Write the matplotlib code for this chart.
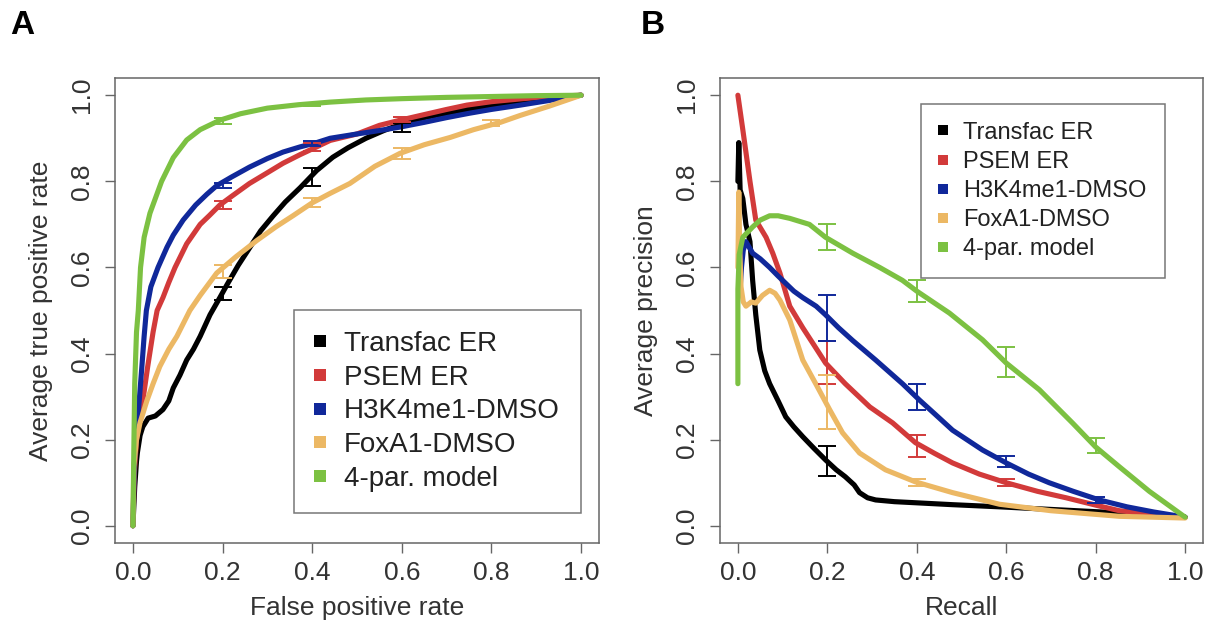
import matplotlib
matplotlib.use('Agg')
from matplotlib import pyplot as plt
from matplotlib.lines import Line2D

plt.rcParams['font.family'] = ['Liberation Sans', 'DejaVu Sans']

names = ['Transfac ER', 'PSEM ER', 'H3K4me1-DMSO', 'FoxA1-DMSO', '4-par. model']
colors = ['#000000', '#d23a3a', '#10289a', '#ecb864', '#7cc142']

# ---- panel A: ROC curves (false positive rate, true positive rate)
roc_fpr_transfac = [0, 0.004, 0.008, 0.01, 0.016, 0.022, 0.034, 0.05, 0.067, 0.08, 0.09, 0.105,
                    0.12, 0.135, 0.15, 0.172, 0.194, 0.21, 0.235, 0.26, 0.285, 0.313, 0.34, 0.373,
                    0.41, 0.446, 0.48, 0.52, 0.56, 0.596, 0.65, 0.708, 0.76, 0.82, 0.9, 1.0]
roc_tpr_transfac = [0, 0.09, 0.15, 0.17, 0.21, 0.23, 0.25, 0.255, 0.27, 0.29, 0.32, 0.35,
                    0.385, 0.41, 0.44, 0.49, 0.53, 0.56, 0.605, 0.645, 0.685, 0.72, 0.752, 0.785,
                    0.825, 0.856, 0.878, 0.90, 0.918, 0.932, 0.948, 0.96, 0.97, 0.98, 0.99, 1.0]

roc_fpr_psem = [0, 0.003, 0.008, 0.015, 0.022, 0.033, 0.045, 0.054, 0.067, 0.08, 0.094, 0.12,
                0.15, 0.17, 0.194, 0.22, 0.26, 0.3, 0.335, 0.373, 0.41, 0.44, 0.5, 0.55, 0.596,
                0.65, 0.7, 0.745, 0.8, 0.87, 0.93, 1.0]
roc_tpr_psem = [0, 0.12, 0.2, 0.25, 0.29, 0.37, 0.45, 0.50, 0.53, 0.565, 0.60, 0.655,
                0.70, 0.72, 0.745, 0.765, 0.795, 0.82, 0.842, 0.862, 0.88, 0.895, 0.91, 0.93, 0.942,
                0.955, 0.967, 0.977, 0.985, 0.992, 0.997, 1.0]

roc_fpr_h3k4 = [0, 0.003, 0.008, 0.014, 0.02, 0.025, 0.03, 0.04, 0.056, 0.076, 0.09, 0.112,
                0.14, 0.165, 0.187, 0.22, 0.26, 0.3, 0.335, 0.373, 0.41, 0.44, 0.5, 0.55, 0.596,
                0.65, 0.7, 0.75, 0.8, 0.864, 0.93, 1.0]
roc_tpr_h3k4 = [0, 0.14, 0.22, 0.29, 0.37, 0.44, 0.50, 0.555, 0.60, 0.647, 0.675, 0.71,
                0.745, 0.77, 0.79, 0.81, 0.833, 0.853, 0.868, 0.88, 0.89, 0.90, 0.91, 0.918, 0.926,
                0.937, 0.948, 0.958, 0.967, 0.977, 0.988, 1.0]

roc_fpr_foxa1 = [0, 0.002, 0.008, 0.016, 0.031, 0.045, 0.06, 0.08, 0.098, 0.127, 0.15, 0.187,
                 0.23, 0.277, 0.32, 0.357, 0.4, 0.44, 0.484, 0.54, 0.596, 0.65, 0.708, 0.76,
                 0.82, 0.864, 0.93, 1.0]
roc_tpr_foxa1 = [0, 0.137, 0.2, 0.24, 0.29, 0.33, 0.37, 0.41, 0.44, 0.50, 0.535, 0.587,
                 0.625, 0.663, 0.695, 0.72, 0.75, 0.772, 0.795, 0.835, 0.865, 0.885, 0.902, 0.92,
                 0.937, 0.953, 0.975, 1.0]

roc_fpr_model = [0, 0.002, 0.004, 0.008, 0.012, 0.017, 0.025, 0.038, 0.064, 0.09, 0.12, 0.15,
                 0.194, 0.24, 0.3, 0.37, 0.44, 0.52, 0.6, 0.7, 0.8, 0.9, 1.0]
roc_tpr_model = [0, 0.176, 0.33, 0.45, 0.50, 0.60, 0.67, 0.726, 0.80, 0.855, 0.896, 0.92,
                 0.942, 0.957, 0.97, 0.978, 0.984, 0.989, 0.992, 0.995, 0.997, 0.999, 1.0]

# error bar ranges at recall/fpr 0.2, 0.4, 0.6, 0.8 (None = not drawn)
roc_err_x = [0.2, 0.4, 0.6, 0.8]
roc_err_lo = [[0.525, 0.79, 0.915, None], [0.735, 0.87, 0.938, None], [0.784, 0.882, None, None],
              [0.575, 0.74, 0.853, 0.928], [0.934, 0.976, None, None]]
roc_err_hi = [[0.555, 0.83, 0.935, None], [0.755, 0.89, 0.95, None], [0.796, 0.894, None, None],
              [0.605, 0.762, 0.877, 0.942], [0.946, 0.982, None, None]]

# ---- panel B: precision-recall curves
pr_rec_transfac = [0.0, 0.002, 0.005, 0.011, 0.018, 0.027, 0.033, 0.04, 0.049, 0.06, 0.071, 0.09,
                   0.107, 0.125, 0.145, 0.17, 0.196, 0.22, 0.24, 0.26, 0.272, 0.29, 0.308, 0.35,
                   0.406, 0.48, 0.585, 0.7, 0.853, 1.0]
pr_prec_transfac = [0.80, 0.89, 0.78, 0.76, 0.70, 0.66, 0.57, 0.49, 0.408, 0.36, 0.33, 0.29,
                    0.253, 0.23, 0.207, 0.18, 0.153, 0.13, 0.114, 0.095, 0.077, 0.065, 0.06, 0.056,
                    0.053, 0.049, 0.044, 0.038, 0.03, 0.02]

pr_rec_psem = [0, 0.011, 0.027, 0.04, 0.063, 0.078, 0.094, 0.116, 0.145, 0.17, 0.196, 0.24,
               0.295, 0.346, 0.397, 0.44, 0.48, 0.54, 0.6, 0.67, 0.734, 0.8, 0.853, 0.93, 1.0]
pr_prec_psem = [1.0, 0.92, 0.80, 0.71, 0.67, 0.633, 0.587, 0.51, 0.46, 0.42, 0.378, 0.33,
                0.276, 0.239, 0.193, 0.168, 0.146, 0.12, 0.10, 0.08, 0.065, 0.048, 0.035, 0.027, 0.02]

pr_rec_h3k4 = [0.005, 0.008, 0.012, 0.018, 0.033, 0.05, 0.071, 0.09, 0.107, 0.125, 0.145, 0.175,
               0.196, 0.225, 0.257, 0.308, 0.368, 0.406, 0.44, 0.48, 0.547, 0.6, 0.65, 0.696, 0.75,
               0.808, 0.87, 0.93, 1.0]
pr_prec_h3k4 = [0.55, 0.60, 0.64, 0.66, 0.633, 0.62, 0.60, 0.58, 0.563, 0.545, 0.53, 0.51,
                0.49, 0.46, 0.43, 0.385, 0.33, 0.292, 0.26, 0.222, 0.176, 0.146, 0.12, 0.10, 0.08,
                0.06, 0.044, 0.032, 0.02]

pr_rec_foxa1 = [0.0, 0.002, 0.004, 0.007, 0.012, 0.018, 0.03, 0.04, 0.055, 0.071, 0.083, 0.094,
                0.116, 0.145, 0.174, 0.205, 0.234, 0.272, 0.33, 0.397, 0.48, 0.585, 0.7, 0.853, 1.0]
pr_prec_foxa1 = [0.60, 0.775, 0.65, 0.555, 0.52, 0.51, 0.52, 0.517, 0.535, 0.547, 0.54, 0.524,
                 0.478, 0.385, 0.33, 0.27, 0.216, 0.169, 0.13, 0.102, 0.077, 0.05, 0.035, 0.022, 0.018]

pr_rec_model = [0.0, 0.0, 0.003, 0.011, 0.02, 0.033, 0.05, 0.071, 0.09, 0.116, 0.16, 0.196,
                0.257, 0.317, 0.368, 0.40, 0.473, 0.547, 0.60, 0.674, 0.748, 0.80, 0.853, 0.92, 1.0]
pr_prec_model = [0.33, 0.55, 0.63, 0.67, 0.68, 0.694, 0.71, 0.72, 0.72, 0.714, 0.70, 0.67,
                 0.633, 0.60, 0.57, 0.545, 0.494, 0.432, 0.378, 0.316, 0.239, 0.183, 0.137, 0.08, 0.02]

pr_err_x = [0.2, 0.4, 0.6, 0.8]
pr_err_lo = [[0.115, None, None, None], [0.33, 0.16, 0.092, None], [0.43, 0.27, 0.137, 0.054],
             [0.225, 0.092, None, None], [0.64, 0.52, 0.345, 0.17]]
pr_err_hi = [[0.185, None, None, None], [0.43, 0.21, 0.108, None], [0.535, 0.33, 0.163, 0.066],
             [0.35, 0.108, None, None], [0.70, 0.57, 0.415, 0.205]]

roc_x = [roc_fpr_transfac, roc_fpr_psem, roc_fpr_h3k4, roc_fpr_foxa1, roc_fpr_model]
roc_y = [roc_tpr_transfac, roc_tpr_psem, roc_tpr_h3k4, roc_tpr_foxa1, roc_tpr_model]
pr_x = [pr_rec_transfac, pr_rec_psem, pr_rec_h3k4, pr_rec_foxa1, pr_rec_model]
pr_y = [pr_prec_transfac, pr_prec_psem, pr_prec_h3k4, pr_prec_foxa1, pr_prec_model]

ticks = [0.0, 0.2, 0.4, 0.6, 0.8, 1.0]
tick_labels = ['%.1f' % t for t in ticks]
draw_order = [4, 0, 1, 2, 3]


def panel(ax, xs, ys, err_x, err_lo, err_hi, xlabel, ylabel, legend_pos, legend_fs, msize, lspace):
    for i in draw_order:
        ax.plot(xs[i], ys[i], color=colors[i], linewidth=3.7, solid_capstyle='round',
                solid_joinstyle='round', zorder=2 + i)
    for i in draw_order:
        pts = [(x, lo, hi) for x, lo, hi in zip(err_x, err_lo[i], err_hi[i]) if lo is not None]
        if not pts:
            continue
        ex = [p[0] for p in pts]
        mid = [(p[1] + p[2]) / 2 for p in pts]
        half = [(p[2] - p[1]) / 2 for p in pts]
        ax.errorbar(ex, mid, yerr=half, fmt='none', ecolor=colors[i], elinewidth=1.4,
                    capsize=6.5, capthick=1.4, zorder=8)

    ax.set_xlim(-0.04, 1.04)
    ax.set_ylim(-0.04, 1.04)
    ax.set_xticks(ticks)
    ax.set_xticklabels(tick_labels)
    ax.set_yticks(ticks)
    ax.set_yticklabels(tick_labels, rotation=90, va='center')
    ax.tick_params(length=7, width=1, color='#666666', labelcolor='#333333', labelsize=19)
    ax.tick_params(axis='x', pad=6)
    ax.tick_params(axis='y', pad=8)
    for s in ax.spines.values():
        s.set_color('#666666')
        s.set_linewidth(1.1)
    ax.set_xlabel(xlabel, fontsize=19, color='#333333', labelpad=8)
    ax.set_ylabel(ylabel, fontsize=19, color='#333333', labelpad=12)

    handles = [Line2D([], [], linestyle='none', marker='s', markersize=msize,
                      color=c, markeredgewidth=0) for c in colors]
    leg = ax.legend(handles, names, loc='upper left', bbox_to_anchor=legend_pos,
                    fontsize=legend_fs, frameon=True, fancybox=False, borderpad=0.75,
                    handlelength=0.4, handletextpad=0.65, labelspacing=lspace,
                    borderaxespad=0)
    leg.get_frame().set_edgecolor('#555555')
    leg.get_frame().set_linewidth(1.1)
    for t in leg.get_texts():
        t.set_color('#222222')


fig = plt.figure(figsize=(12.1, 6.26), dpi=100)
ax_a = fig.add_axes([115 / 1210, 83 / 626, 484 / 1210, 465 / 626])
ax_b = fig.add_axes([720 / 1210, 83 / 626, 483 / 1210, 465 / 626])

panel(ax_a, roc_x, roc_y, roc_err_x, roc_err_lo, roc_err_hi,
      'False positive rate', 'Average true positive rate', (0.370, 0.501), 20, 9, 0.28)
panel(ax_b, pr_x, pr_y, pr_err_x, pr_err_lo, pr_err_hi,
      'Recall', 'Average precision', (0.416, 0.944), 17, 7.5, 0.3)

fig.text(22 / 1210, 1 - 25 / 626, 'A', fontsize=24, fontweight='bold', ha='center', va='center')
fig.text(653 / 1210, 1 - 25 / 626, 'B', fontsize=24, fontweight='bold', ha='center', va='center')

fig.savefig('out.png', dpi=100)
